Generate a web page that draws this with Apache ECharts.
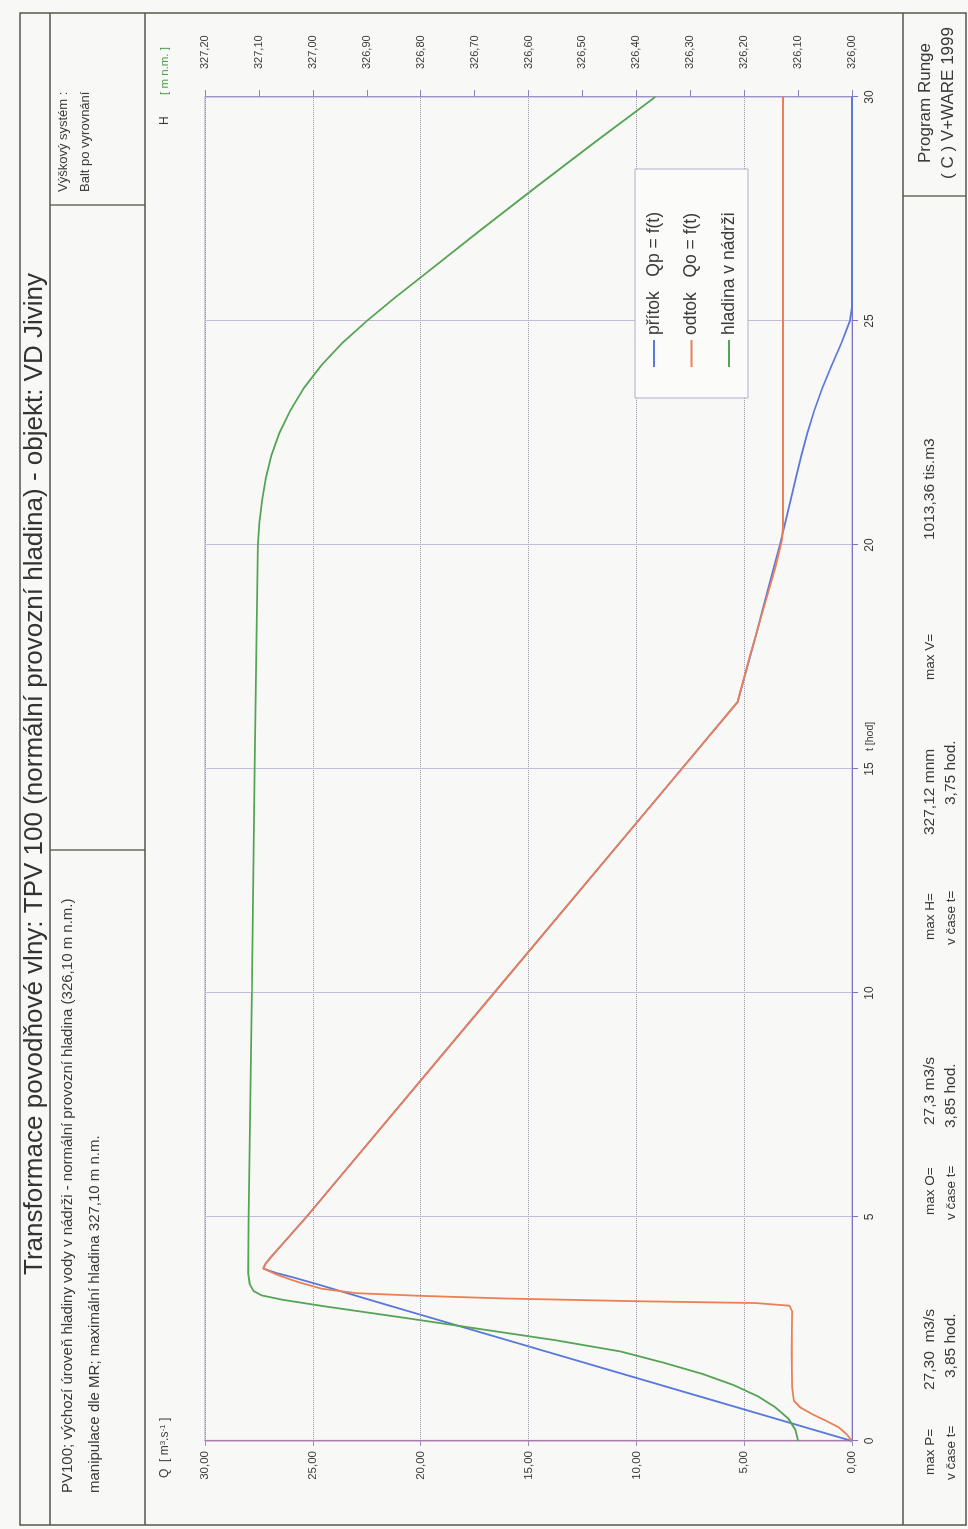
<!DOCTYPE html>
<html lang="cs">
<head>
<meta charset="utf-8">
<title>Transformace povodňové vlny – VD Jiviny</title>
<script src="https://cdn.jsdelivr.net/npm/echarts@6/dist/echarts.min.js"></script>
<style>
  html, body { margin: 0; padding: 0; background: #f8f8f6; }
  #page { position: absolute; left: 0; top: 0; width: 968px; height: 1529px; overflow: hidden; }
  /* the sheet is laid out in landscape and turned a quarter turn counter-clockwise */
  #chart { position: absolute; left: 0; top: 0; width: 1529px; height: 968px;
           transform-origin: 0 0; transform: translate(0px, 1529px) rotate(-90deg); }
</style>
</head>
<body>
<div id="page"><div id="chart"></div></div>
<script>
// time axis [hod]
const tTicks = [0, 5, 10, 15, 20, 25, 30];

// přítok Qp = f(t)  [m3/s]
const inflowT = [0, 1, 2, 3, 3.3, 3.5, 3.65, 3.75, 3.85, 3.95, 4.1, 4.4, 5, 10, 15, 16.5, 18, 19, 20, 21, 21.5, 22, 22.5, 23, 23.5, 24, 24.5, 25, 25.3, 30];
const inflowQ = [0, 7.1, 14.2, 21.3, 23.4, 24.8, 25.9, 26.7, 27.3, 27.2, 26.95, 26.4, 25.3, 16.6, 7.9, 5.3, 4.45, 3.9, 3.35, 2.85, 2.6, 2.35, 2.07, 1.75, 1.38, 0.95, 0.5, 0.1, 0, 0];

// odtok Qo = f(t)  [m3/s]
const outflowT = [0, 0.15, 0.3, 0.45, 0.6, 0.75, 0.9, 1.2, 2, 2.9, 3.02, 3.08, 3.12, 3.18, 3.24, 3.3, 3.4, 3.55, 3.7, 3.85, 3.95, 4.1, 4.4, 5, 10, 15, 16.5, 17.5, 18.5, 19.5, 20.1, 20.4, 30];
const outflowQ = [0, 0.25, 0.6, 1.2, 1.85, 2.4, 2.7, 2.78, 2.8, 2.78, 2.9, 4.5, 10, 16, 20, 23, 24.6, 25.7, 26.6, 27.3, 27.2, 26.95, 26.4, 25.3, 16.6, 7.9, 5.3, 4.75, 4.15, 3.55, 3.25, 3.2, 3.2];

// hladina v nádrži  [m n.m.]
const levelT = [0, 0.25, 0.5, 0.75, 1, 1.25, 1.5, 1.75, 2, 2.25, 2.5, 2.75, 3, 3.15, 3.25, 3.35, 3.5, 3.75, 5, 10, 15, 20, 20.5, 21, 21.5, 22, 22.5, 23, 23.5, 24, 24.5, 25, 25.5, 26, 27, 28, 29, 30];
const levelH = [326.100, 326.105, 326.118, 326.142, 326.175, 326.22, 326.278, 326.35, 326.43, 326.55, 326.69, 326.83, 326.975, 327.055, 327.095, 327.11, 327.117, 327.12, 327.119, 327.113, 327.108, 327.102, 327.099, 327.094, 327.087, 327.077, 327.062, 327.042, 327.017, 326.985, 326.946, 326.9, 326.85, 326.797, 326.692, 326.585, 326.476, 326.365];

// legend entries
const seriesNames = ['přítok   Qp = f(t)', 'odtok   Qo = f(t)', 'hladina v nádrži'];

// summary values shown in the footer
const summary = [
  { label: 'max P=', value: '27,30  m3/s', at: '3,85 hod.' },
  { label: 'max O=', value: '27,3 m3/s', at: '3,85 hod.' },
  { label: 'max H=', value: '327,12 mnm', at: '3,75 hod.' },
  { label: 'max V=', value: '1013,36 tis.m3', at: null }
];

const FONT = '"Liberation Sans", Arial, sans-serif';
const INK = '#3a3a3a';
const FRAME = '#55554a';

function zip(a, b) { return a.map((v, i) => [v, b[i]]); }
function comma2(v) { return v.toFixed(2).replace('.', ','); }

function txt(x, y, text, size, extra) {
  return {
    type: 'text', x: x, y: y, silent: true,
    style: Object.assign({ text: text, fontSize: size, fontFamily: FONT, fill: INK,
                           align: 'left', verticalAlign: 'middle' }, (extra || {}))
  };
}
function ln(x1, y1, x2, y2, w) {
  return { type: 'line', silent: true, shape: { x1: x1, y1: y1, x2: x2, y2: y2 },
           style: { stroke: FRAME, lineWidth: w || 1.3 } };
}

// sheet frame and header / footer boxes
const frame = [
  { type: 'rect', silent: true, shape: { x: 4, y: 20, width: 1512, height: 946 },
    style: { fill: 'none', stroke: FRAME, lineWidth: 1.5 } },
  ln(4, 50, 1516, 50),
  ln(4, 145, 1516, 145),
  ln(679, 50, 679, 145),
  ln(1324, 50, 1324, 145),
  ln(4, 903, 1516, 903, 1.6),
  ln(1333, 903, 1333, 966)
];

const texts = [
  txt(755, 35, 'Transformace povodňové vlny: TPV 100 (normální provozní hladina) - objekt: VD Jiviny', 26,
      { align: 'center', fill: '#333' }),
  txt(36, 68, 'PV100; výchozí úroveň hladiny vody v nádrži - normální provozní hladina (326,10 m n.m.)', 15),
  txt(36, 95, 'manipulace dle MR; maximální hladina 327,10 m n.m.', 15),
  txt(1337, 63, 'Výškový systém :', 13),
  txt(1337, 85, 'Balt po vyrovnání', 13),
  txt(1426, 925, 'Program Runge', 17, { align: 'center' }),
  txt(1426, 948, '( C ) V+WARE 1999', 17, { align: 'center' }),
  // axis captions
  {
    type: 'text', x: 51, y: 165, silent: true,
    style: {
      text: '{a|Q  [ m}{s|3}{a|.s}{s|-1}{a| ]}', fontFamily: FONT, fill: INK,
      verticalAlign: 'middle',
      rich: { a: { fontSize: 12, fontFamily: FONT, fill: INK },
              s: { fontSize: 8, fontFamily: FONT, fill: INK, verticalAlign: 'top' } }
    }
  },
  txt(1404, 165, 'H', 12),
  txt(1434, 165, '[ m n.m. ]', 11.5, { fill: '#4f9a4f' }),
  txt(778, 870, 't [hod]', 10.5)
];

// footer statistics
const footX = [
  { l: 54, v: 139, a: 151 },
  { l: 314, v: 404, a: 401 },
  { l: 589, v: 694, a: 724 },
  { l: 849, v: 989, a: null }
];
summary.forEach((s, i) => {
  const p = footX[i];
  texts.push(txt(p.l, 930, s.label, 13.5));
  texts.push(txt(p.v, 930, s.value, 15.5));
  if (s.at) {
    texts.push(txt(p.l - 5, 951, 'v čase t=', 13.5));
    texts.push(txt(p.a, 951, s.at, 15.5));
  }
});

const chart = echarts.init(document.getElementById('chart'), null, { renderer: 'canvas', width: 1529, height: 968 });

chart.setOption({
  backgroundColor: '#f8f8f6',
  animation: false,
  textStyle: { fontFamily: FONT },
  grid: { left: 88, right: 97, top: 205, bottom: 116, show: true,
          borderColor: '#a9a2c6', borderWidth: 1, backgroundColor: 'transparent' },
  legend: {
    orient: 'vertical', left: 1131, top: 635,
    padding: [10, 43, 10, 31],
    itemGap: 19.5, itemWidth: 27, itemHeight: 2, icon: 'rect',
    backgroundColor: '#fbfbfa', borderColor: '#b3accb', borderWidth: 1,
    textStyle: { fontSize: 17.5, color: INK, fontFamily: FONT },
    data: seriesNames
  },
  xAxis: {
    type: 'value', min: tTicks[0], max: tTicks[tTicks.length - 1], interval: 5,
    axisLine: { show: true, lineStyle: { color: '#7d72c2', width: 1.2 } },
    axisTick: { show: true, length: 6, lineStyle: { color: '#7d72c2' } },
    axisLabel: { fontSize: 12, color: INK, margin: 12 },
    splitLine: { show: true, lineStyle: { color: '#c3bcd9', width: 1 } }
  },
  yAxis: [
    {
      type: 'value', min: 0, max: 30, interval: 5, position: 'left',
      axisLine: { show: true, lineStyle: { color: '#b07aa8', width: 1.2 } },
      axisTick: { show: true, length: 5, lineStyle: { color: '#a090b8' } },
      axisLabel: { fontSize: 11.5, color: INK, margin: 10, formatter: comma2 },
      splitLine: { show: true, lineStyle: { color: '#9a98a8', type: 'dotted', width: 1 } }
    },
    {
      type: 'value', min: 326, max: 327.2, interval: 0.1, position: 'right',
      axisLine: { show: true, lineStyle: { color: '#9a92c8', width: 1 } },
      axisTick: { show: true, length: 7, lineStyle: { color: '#8a82c4' } },
      axisLabel: { fontSize: 11, color: INK, margin: 28, formatter: comma2 },
      splitLine: { show: false }
    }
  ],
  series: [
    { name: seriesNames[0], type: 'line', yAxisIndex: 0, showSymbol: false, z: 3,
      lineStyle: { color: '#5a78dc', width: 1.8 }, itemStyle: { color: '#5a78dc' },
      data: zip(inflowT, inflowQ) },
    { name: seriesNames[1], type: 'line', yAxisIndex: 0, showSymbol: false, z: 4,
      lineStyle: { color: '#ec7f55', width: 1.8 }, itemStyle: { color: '#ec7f55' },
      data: zip(outflowT, outflowQ) },
    { name: seriesNames[2], type: 'line', yAxisIndex: 1, showSymbol: false, z: 5,
      lineStyle: { color: '#55a455', width: 1.8 }, itemStyle: { color: '#55a455' },
      data: zip(levelT, levelH) }
  ],
  graphic: frame.concat(texts)
});
</script>
</body>
</html>
